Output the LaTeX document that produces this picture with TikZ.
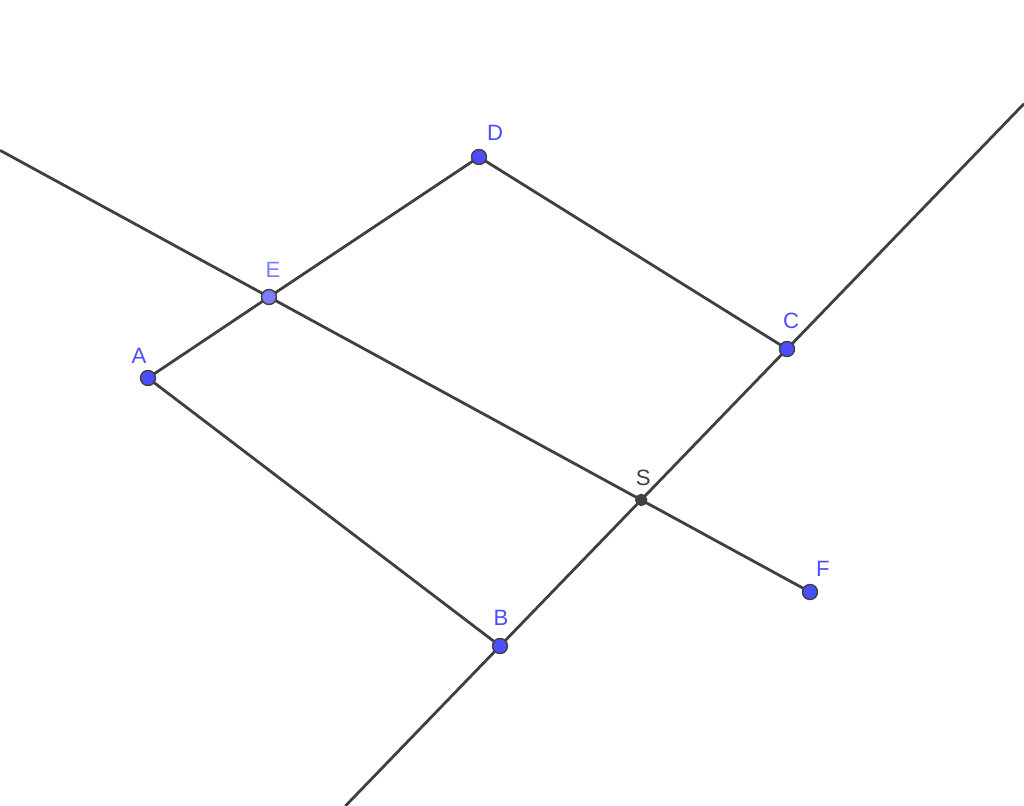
\documentclass[tikz,border=0pt]{standalone}
\usepackage{fontspec}
\setmainfont{Liberation Sans}
\usetikzlibrary{calc}
\definecolor{ptblue}{RGB}{77,77,255}
\definecolor{ptlight}{RGB}{125,125,255}
\definecolor{lgray}{RGB}{64,64,64}
\tikzset{
  seg/.style={lgray, line width=0.8pt},
  pt/.style={circle, fill=ptblue, draw=lgray, line width=0.4pt, inner sep=0pt, minimum size=0.15cm},
  lab/.style={text=ptblue, font=\fontsize{6.3}{7}\selectfont, inner sep=0pt}
}
\begin{document}
\begin{tikzpicture}[x=0.01cm, y=-0.01cm]  %construction
    \useasboundingbox (0,0) rectangle (1024,806);
    \coordinate (A) at (148,378);
    \coordinate (B) at (500,646);
    \coordinate (C) at (787,349);
    \coordinate (D) at (479,157);
    \coordinate (E) at (269,297);
    \coordinate (F) at (810,592);
    \coordinate (S) at (intersection of B--C and E--F);
    \coordinate (bcLow) at ($(B)!-0.5387!(C)$);
    \coordinate (bcHigh) at ($(B)!1.826!(C)$);
    \coordinate (efLeft) at ($(F)!1.497!(E)$);

        \draw[seg] (A) -- (E) -- (D) -- (C);
        \draw[seg] (A) -- (B);
        \draw[seg] (bcLow) -- (bcHigh);
        \draw[seg] (efLeft) -- (F);

        \node[pt] (a) at (A) {};
        \node[pt] (b) at (B) {};
        \node[pt] (c) at (C) {};
        \node[pt] (d) at (D) {};
        \node[pt, fill=ptlight] (e) at (E) {};
        \node[pt] (f) at (F) {};
        \node[pt, fill=lgray, minimum size=0.11cm] (s) at (S) {};

        \node[lab] (la) at ($(A)+(-9,-22)$) {A};
        \node[lab] (lb) at ($(B)+(1,-28)$) {B};
        \node[lab] (lc) at ($(C)+(4,-28)$) {C};
        \node[lab] (ld) at ($(D)+(16,-24)$) {D};
        \node[lab, text=ptlight] (le) at ($(E)+(4,-27)$) {E};
        \node[lab] (lf) at ($(F)+(13,-23)$) {F};
        \node[lab, text=lgray] (ls) at ($(S)+(2,-22)$) {S};
\end{tikzpicture}
\end{document}
